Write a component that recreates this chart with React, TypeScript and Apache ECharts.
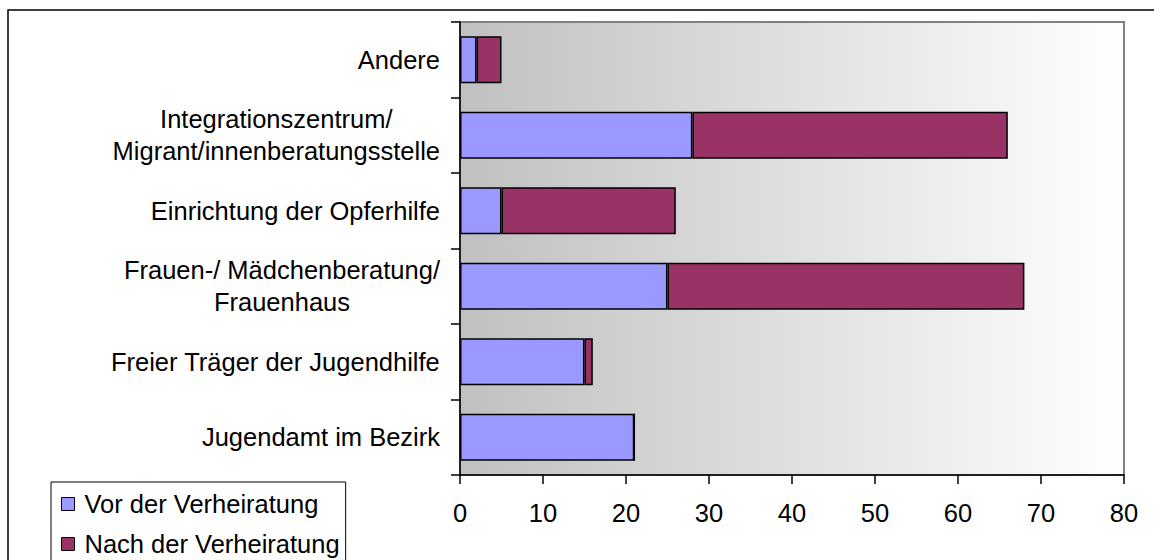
import React, { useEffect, useRef } from "react";
import * as echarts from "echarts";

const categories = [
  "Jugendamt im Bezirk",
  "Freier Träger der Jugendhilfe",
  "Frauen-/ Mädchenberatung/\nFrauenhaus",
  "Einrichtung der Opferhilfe",
  "Integrationszentrum/\nMigrant/innenberatungsstelle",
  "Andere",
];
const vorValues = [21, 15, 25, 5, 28, 2];
const nachValues = [0, 1, 43, 21, 38, 3];
const seriesNames = ["Vor der Verheiratung", "Nach der Verheiratung"];
const xTicks = { min: 0, max: 80, interval: 10 };

const FONT = "'Liberation Sans', Arial, sans-serif";
const FS = 25.5;

export default function App() {
  const ref = useRef<HTMLDivElement>(null);
  useEffect(() => {
    if (!ref.current) return;
    const chart = echarts.init(ref.current, undefined, { renderer: "svg" });
    chart.setOption({
      animation: false,
      backgroundColor: "#ffffff",
      textStyle: { fontFamily: FONT },
      graphic: [
        {
          type: "rect",
          shape: { x: 8, y: 10, width: 1170, height: 620 },
          style: { fill: "none", stroke: "#000", lineWidth: 1.5 },
          silent: true,
          z: -1,
        },
      ],
      grid: {
        left: 460,
        right: 30,
        top: 22,
        bottom: 125,
        show: true,
        backgroundColor: new echarts.graphic.LinearGradient(0, 0, 1, 0, [
          { offset: 0, color: "#c0c0c0" },
          { offset: 1, color: "#ffffff" },
        ]),
        borderColor: "#808080",
        borderWidth: 2,
      },
      legend: {
        orient: "vertical",
        left: 51,
        top: 482,
        padding: [9, 6, 9, 10],
        itemGap: 14,
        itemWidth: 13,
        itemHeight: 13,
        icon: "rect",
        borderColor: "#000",
        borderWidth: 1,
        backgroundColor: "#fff",
        itemStyle: { borderColor: "#000", borderWidth: 1 },
        textStyle: {
          fontFamily: FONT,
          fontSize: FS,
          color: "#000",
          padding: [0, 0, 0, 5],
        },
        data: seriesNames,
      },
      xAxis: {
        type: "value",
        min: xTicks.min,
        max: xTicks.max,
        interval: xTicks.interval,
        splitLine: { show: false },
        axisLine: { show: true, lineStyle: { color: "#000", width: 1.5 } },
        axisTick: { show: true, length: 9, lineStyle: { color: "#000", width: 1.5 } },
        axisLabel: { fontFamily: FONT, fontSize: FS, color: "#000", margin: 25 },
      },
      yAxis: {
        type: "category",
        data: categories,
        axisLine: { show: true, lineStyle: { color: "#000", width: 1.5 } },
        axisTick: { show: true, length: 9, lineStyle: { color: "#000", width: 1.5 } },
        axisLabel: {
          fontFamily: FONT,
          fontSize: FS,
          color: "#000",
          margin: 20,
          lineHeight: 32,
          formatter: (v: string) =>
            v
              .split("\n")
              .map((l) => "{c|" + l + "}")
              .join("\n"),
          rich: {
            c: {
              align: "center",
              fontFamily: FONT,
              fontSize: FS,
              color: "#000",
              lineHeight: 32,
            },
          },
        },
      },
      series: [
        {
          name: seriesNames[0],
          type: "bar",
          stack: "total",
          data: vorValues,
          barWidth: 47,
          itemStyle: { color: "#9999ff", borderColor: "#000", borderWidth: 1.5 },
        },
        {
          name: seriesNames[1],
          type: "bar",
          stack: "total",
          data: nachValues,
          barWidth: 47,
          itemStyle: { color: "#993366", borderColor: "#000", borderWidth: 1.5 },
        },
      ],
    });
    return () => chart.dispose();
  }, []);
  return (
    <div
      ref={ref}
      style={{ position: "fixed", left: 0, top: 0, width: 1154, height: 600 }}
    />
  );
}
